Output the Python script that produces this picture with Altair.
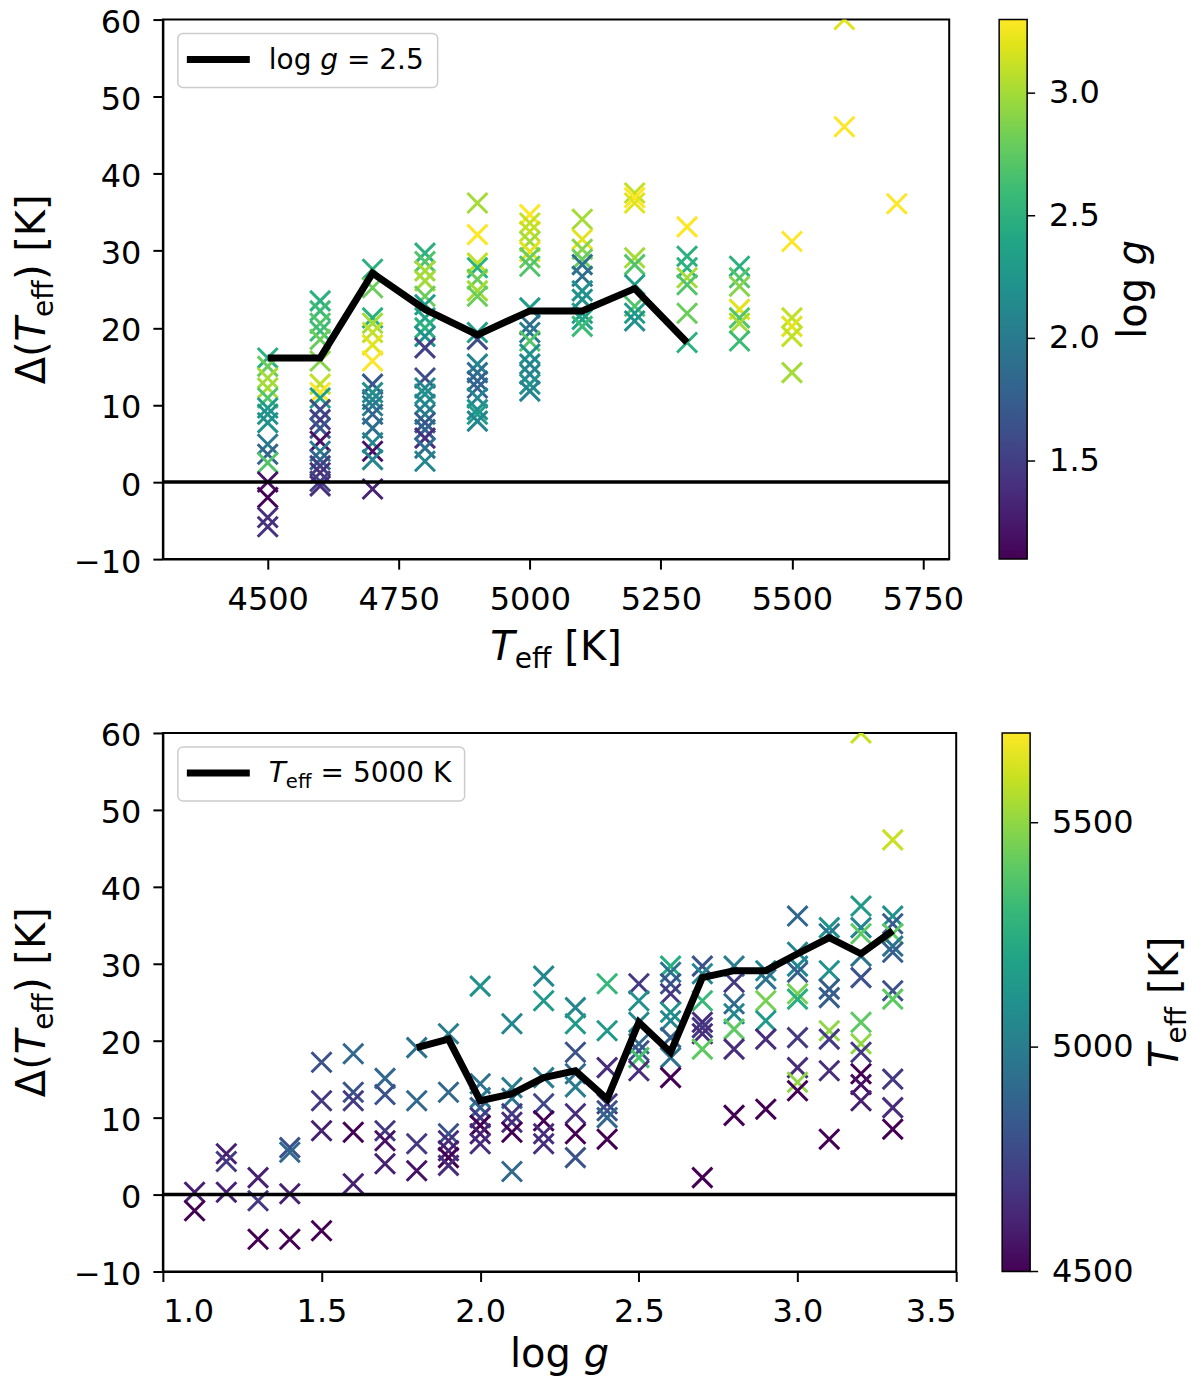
import altair as alt
import pandas as pd

FONT = "DejaVu Sans"

# ---------------- top panel: Delta(Teff) vs Teff, colour = log g ----------------
top_teff_cols = [4500, 4600, 4700, 4800, 4900, 5000, 5100, 5200, 5300, 5400, 5500, 5600, 5700]
top_delta = [
    [16.1, 15.0, 13.5, 12.2, 10.9, 9.6, 8.8, 7.7, 4.9, 3.6, 2.5, 0.0, -2.0, -4.6, -5.8],
    [23.5, 22.2, 20.6, 19.6, 18.5, 15.7, 12.7, 11.6, 10.9, 9.4, 8.1, 7.0, 5.3, 4.0, 2.9, 2.1, 1.2, 0.1, -0.5],
    [27.6, 25.2, 21.3, 20.6, 19.4, 17.8, 15.7, 12.7, 11.6, 10.7, 9.9, 8.8, 7.0, 5.1, 4.0, 2.9, -0.9],
    [29.7, 28.6, 27.4, 26.1, 24.1, 23.0, 21.3, 20.0, 18.9, 17.4, 13.5, 12.2, 11.4, 10.1, 8.8, 7.7, 6.8, 5.7, 4.4, 2.7],
    [36.2, 32.1, 28.4, 27.8, 26.3, 24.8, 24.1, 19.4, 18.5, 15.3, 14.2, 13.1, 12.2, 10.9, 9.4, 8.8, 7.9],
    [34.7, 33.6, 32.5, 31.2, 29.9, 29.1, 28.0, 22.6, 20.4, 19.4, 18.3, 16.6, 15.3, 14.0, 12.7, 11.8],
    [34.1, 31.5, 30.2, 28.9, 28.2, 26.7, 24.8, 23.7, 21.9, 21.1, 20.2],
    [37.5, 36.9, 36.2, 29.1, 28.2, 25.6, 22.8, 21.9, 20.9],
    [33.1, 29.3, 27.8, 26.5, 25.6, 21.9, 18.1],
    [28.0, 26.5, 25.4, 22.4, 21.3, 20.6, 18.3],
    [31.2, 21.3, 20.2, 18.9, 14.2],
    [60.0, 46.1],
    [36.1],
]
top_logg = [
    [2.5, 2.8, 3.0, 3.0, 2.7, 2.3, 2.2, 2.2, 2.0, 1.8, 2.7, 1.2, 1.1, 1.4, 1.4],
    [2.5, 2.6, 2.7, 2.6, 2.8, 2.9, 3.1, 3.3, 2.3, 1.6, 1.5, 1.7, 1.2, 2.0, 1.8, 1.5, 1.4, 1.5, 1.4],
    [2.5, 2.8, 2.5, 3.0, 3.1, 3.2, 3.3, 1.7, 2.2, 2.1, 2.0, 1.8, 1.9, 2.1, 1.2, 2.1, 1.3],
    [2.5, 2.7, 3.0, 3.0, 2.8, 2.3, 2.4, 2.5, 2.2, 1.5, 1.6, 2.1, 2.2, 2.1, 2.0, 1.7, 1.8, 1.4, 1.9, 2.1],
    [3.0, 3.3, 3.1, 2.5, 2.8, 3.0, 2.8, 2.3, 1.6, 2.1, 1.9, 1.8, 1.8, 2.1, 2.2, 2.3, 2.1],
    [3.3, 3.1, 3.1, 3.0, 3.2, 2.8, 2.7, 2.3, 1.9, 2.0, 2.7, 2.2, 2.1, 2.1, 2.2, 2.1],
    [3.0, 3.2, 2.9, 2.8, 1.9, 1.9, 2.2, 2.2, 2.3, 2.4, 2.6],
    [3.1, 3.3, 3.2, 3.0, 2.7, 2.3, 2.7, 2.3, 2.2],
    [3.3, 2.5, 2.5, 3.0, 2.7, 2.8, 2.5],
    [2.5, 2.7, 2.9, 3.2, 2.7, 3.0, 2.6],
    [3.3, 3.1, 3.2, 3.1, 3.0],
    [3.2, 3.3],
    [3.3],
]
top_line_teff = [4500, 4600, 4700, 4800, 4900, 5000, 5100, 5200, 5300]
top_line_delta = [16.1, 16.1, 27.1, 22.4, 19.1, 22.2, 22.2, 25.1, 18.1]

# ---------------- bottom panel: Delta(Teff) vs log g, colour = Teff ----------------
bot_logg_cols = [1.1, 1.2, 1.3, 1.4, 1.5, 1.6, 1.7, 1.8, 1.9, 2.0, 2.1, 2.2,
                 2.3, 2.4, 2.5, 2.6, 2.7, 2.8, 2.9, 3.0, 3.1, 3.2, 3.3]
bot_delta = [
    [0.3, -2.1],
    [5.3, 4.3, 0.3],
    [2.2, -0.8, -5.8],
    [6.1, 5.5, 0.1, -5.8],
    [17.2, 12.2, 8.3, -4.7],
    [18.3, 13.3, 12.2, 8.1, 1.4],
    [15.1, 13.0, 8.3, 7.0, 4.0],
    [19.1, 12.2, 6.6, 3.1],
    [20.9, 13.3, 7.9, 7.0, 5.7, 4.8, 3.8],
    [27.1, 14.4, 12.6, 11.3, 10.0, 9.0, 7.9, 6.6],
    [22.2, 13.9, 12.5, 10.5, 9.4, 8.1, 3.0],
    [28.4, 25.2, 15.2, 11.8, 9.6, 7.9, 6.6],
    [24.3, 22.2, 18.5, 15.7, 14.0, 10.5, 7.9, 4.8],
    [27.4, 21.3, 16.5, 11.8, 10.9, 10.0, 7.2],
    [27.4, 25.2, 22.4, 19.6, 18.7, 17.8, 16.1],
    [29.7, 28.9, 27.4, 26.1, 23.7, 22.6, 20.4, 17.8, 15.2],
    [29.7, 28.7, 25.2, 22.4, 21.7, 20.9, 18.9, 2.2],
    [29.7, 27.6, 24.8, 23.5, 21.5, 18.9, 10.3],
    [29.1, 28.0, 25.2, 22.6, 20.2, 11.1],
    [36.2, 31.5, 29.7, 28.9, 26.1, 25.4, 20.4, 16.5, 14.6, 13.5],
    [34.7, 33.9, 29.1, 26.7, 25.6, 21.3, 20.2, 16.1, 7.2],
    [60.0, 37.5, 34.7, 33.9, 31.0, 28.2, 22.4, 19.6, 18.5, 15.7, 14.3, 12.2],
    [46.1, 36.2, 35.2, 33.9, 32.3, 31.5, 26.5, 25.4, 15.0, 11.3, 8.5],
]
bot_teff = [
    [4600, 4500],
    [4600, 4700, 4600],
    [4600, 4700, 4500],
    [4800, 4900, 4600, 4500],
    [4800, 4700, 4600, 4500],
    [4900, 4800, 4700, 4500, 4600],
    [4900, 4800, 4700, 4550, 4600],
    [4950, 4900, 4700, 4550],
    [5000, 4900, 4800, 4650, 4600, 4500, 4650],
    [5100, 4950, 5000, 4850, 4700, 4500, 4600, 4650],
    [5050, 5000, 4950, 4700, 4650, 4500, 4900],
    [5050, 5150, 5000, 4750, 4500, 4650, 4650],
    [5050, 5150, 4800, 4900, 5000, 4650, 4500, 4800],
    [5300, 5150, 4650, 4700, 4800, 4900, 4500],
    [4700, 5100, 5050, 4900, 4800, 5350, 4650],
    [5250, 4950, 4800, 4700, 5100, 5050, 4850, 4950, 4500],
    [4800, 5050, 5300, 4650, 4700, 4650, 5400, 4500],
    [5000, 4700, 4900, 5050, 5400, 4650, 4500],
    [5050, 4950, 5450, 5150, 4650, 4500],
    [4900, 5050, 5050, 4850, 5450, 5250, 4700, 4650, 5500, 4500],
    [5100, 4950, 5100, 4850, 4850, 5500, 4700, 4650, 4500],
    [5600, 5150, 5050, 5400, 4950, 4800, 5400, 5500, 4700, 4500, 4550, 4600],
    [5600, 5100, 4850, 5400, 4950, 4850, 4800, 5400, 4700, 4650, 4500],
]
bot_line_logg = [1.8, 1.9, 2.0, 2.1, 2.2, 2.3, 2.4, 2.5, 2.6, 2.7, 2.8, 2.9, 3.0, 3.1, 3.2, 3.3]
bot_line_delta = [19.1, 20.2, 12.2, 13.1, 15.2, 16.1, 12.4, 22.4, 18.5, 28.2, 29.1, 29.1, 31.3, 33.4, 31.3, 34.3]

y_ticks = [-10, 0, 10, 20, 30, 40, 50, 60]
top_x_ticks = [4500, 4750, 5000, 5250, 5500, 5750]
bot_x_ticks = [1.0, 1.5, 2.0, 2.5, 3.0, 3.5]
top_cbar_ticks = [1.5, 2.0, 2.5, 3.0]
bot_cbar_ticks = [4500, 5000, 5500]

# ---------------- tables ----------------
top_df = pd.DataFrame(
    [(t, d, g) for t, ds, gs in zip(top_teff_cols, top_delta, top_logg) for d, g in zip(ds, gs)],
    columns=["teff", "delta", "logg"])
bot_df = pd.DataFrame(
    [(g, d, t) for g, ds, ts in zip(bot_logg_cols, bot_delta, bot_teff) for d, t in zip(ds, ts)],
    columns=["logg", "delta", "teff"])
top_line_df = pd.DataFrame({"teff": top_line_teff, "delta": top_line_delta})
bot_line_df = pd.DataFrame({"logg": bot_line_logg, "delta": bot_line_delta})
zero_df = pd.DataFrame({"y": [0]})
one = pd.DataFrame({"a": [0]})

# ---------------- rich text helper (DejaVu Sans advance widths, em) ----------------
WID = {" ": 0.318, "(": 0.390, ")": 0.390, "[": 0.390, "]": 0.390, "\u0394": 0.684,
       "T": 0.611, "e": 0.615, "f": 0.352, "K": 0.656, "l": 0.278, "o": 0.612,
       "g": 0.635, "=": 0.838, ".": 0.318}
for _d in "0123456789":
    WID[_d] = 0.636


def tw(s, size):
    return sum(WID.get(c, 0.6) for c in s) * size


def rich_text(pieces, x0, y0, vertical=False, centered=True):
    total = sum(tw(t, s) for t, s, _, _ in pieces)
    pos = -total / 2 if centered else 0.0
    out = []
    for t, s, ital, dy in pieces:
        lead = len(t) - len(t.lstrip(" "))
        p = pos + tw(" " * lead, s)
        if vertical:
            x, y, ang = x0 + dy, y0 - p, 270
        else:
            x, y, ang = x0 + p, y0 + dy, 0
        out.append(
            alt.Chart(one).mark_text(
                text=t.strip(), font=FONT, fontSize=s,
                fontStyle="italic" if ital else "normal",
                align="left", baseline="alphabetic", angle=ang, color="black",
            ).encode(x=alt.value(x), y=alt.value(y))
        )
        pos += tw(t, s)
    return out


XSHAPE = "M-1,-1L1,1M-1,1L1,-1"
TF = 40      # title font size
SF = 28      # subscript font size
LF = 28      # legend font size
CBW = 28     # colour-bar thickness


def panel(df, xfield, cfield, xdom, xticks, xfmt, cdom, cticks, cfmt,
          line_df, W, H, cbar_x, label_pieces, box_w, xtitle, xtitle_dy, ctitle, ctitle_x):
    yscale = alt.Scale(domain=[-10, 60], nice=False, zero=False)
    xscale = alt.Scale(domain=xdom, nice=False, zero=False)
    cscale_pos = alt.Scale(domain=cdom, nice=False, zero=False)
    xaxis = alt.Axis(values=xticks, format=xfmt, title=None, labelPadding=15)
    yaxis = alt.Axis(values=y_ticks, format="d", title=None, labelPadding=12, labelOffset=3)
    pts = alt.Chart(df).mark_point(
        shape=XSHAPE, filled=False, size=400, strokeWidth=3, opacity=1, clip=True
    ).encode(
        x=alt.X(f"{xfield}:Q", scale=xscale, axis=xaxis),
        y=alt.Y("delta:Q", scale=yscale, axis=yaxis),
        color=alt.Color(
            f"{cfield}:Q",
            scale=alt.Scale(scheme="viridis", domain=cdom),
            legend=alt.Legend(
                orient="none", legendX=cbar_x, legendY=0, direction="vertical",
                gradientLength=H, gradientThickness=CBW, title=None,
                values=cticks, labelExpr="''", labelFontSize=10,
                gradientStrokeColor="black", gradientStrokeWidth=1.5, padding=0,
            ),
        ),
    )
    zero = alt.Chart(zero_df).mark_rule(color="black", strokeWidth=3.5).encode(
        y=alt.Y("y:Q", scale=yscale, axis=None))
    line = alt.Chart(line_df).mark_line(color="black", strokeWidth=7).encode(
        x=alt.X(f"{xfield}:Q", scale=xscale), y=alt.Y("delta:Q", scale=yscale, axis=None))
    cb_df = pd.DataFrame({"v": cticks})
    cb_ticks = alt.Chart(cb_df).mark_rule(color="black", strokeWidth=1.5).encode(
        x=alt.value(cbar_x + CBW), x2=alt.value(cbar_x + CBW + 8),
        y=alt.Y("v:Q", scale=cscale_pos, axis=None))
    cb_labels = alt.Chart(cb_df).mark_text(
        align="left", baseline="middle", font=FONT, fontSize=32, color="black"
    ).encode(
        x=alt.value(cbar_x + CBW + 22),
        y=alt.Y("v:Q", scale=cscale_pos, axis=None),
        text=alt.Text("v:Q", format=cfmt))
    box = alt.Chart(one).mark_rect(
        fill="white", fillOpacity=0.85, stroke="#cccccc", strokeWidth=1.5, cornerRadius=5
    ).encode(x=alt.value(15), x2=alt.value(15 + box_w), y=alt.value(14), y2=alt.value(68))
    sample = alt.Chart(one).mark_rule(color="black", strokeWidth=7).encode(
        x=alt.value(24), x2=alt.value(87), y=alt.value(40), y2=alt.value(40))
    texts = []
    texts += rich_text(label_pieces, 106, 49, centered=False)
    texts += rich_text(xtitle, W / 2, H + xtitle_dy)
    texts += rich_text([("\u0394(", TF, False, 0), ("T", TF, True, 0), ("eff", SF, False, 8),
                        (")", TF, False, 0), (" [K]", TF, False, 0)], -118, H / 2, vertical=True)
    texts += rich_text(ctitle, ctitle_x, H / 2, vertical=True)
    return alt.layer(pts, zero, line, cb_ticks, cb_labels, box, sample, *texts).resolve_scale(
        y="independent").properties(width=W, height=H)


top = panel(
    top_df, "teff", "logg", [4300, 5800], top_x_ticks, "d",
    [1.1, 3.3], top_cbar_ticks, ".1f", top_line_df, 787, 540, 837,
    [("log ", LF, False, 0), ("g", LF, True, 0), (" = 2.5", LF, False, 0)], 260,
    [("T", TF, True, 0), ("eff", SF, False, 8), (" [K]", TF, False, 0)], 101,
    [("log ", TF, False, 0), ("g", TF, True, 0)], 984,
)
bottom = panel(
    bot_df, "logg", "teff", [1.0, 3.5], bot_x_ticks, ".1f",
    [4500, 5700], bot_cbar_ticks, "d", bot_line_df, 794, 539, 840,
    [("T", LF, True, 0), ("eff", 19.6, False, 6), (" = 5000 K", LF, False, 0)], 287,
    [("log ", TF, False, 0), ("g", TF, True, 0)], 96,
    [("T", TF, True, 0), ("eff", SF, False, 8), (" [K]", TF, False, 0)], 1016,
)

chart = alt.vconcat(top, bottom, spacing=174, bounds="flush").resolve_scale(
    color="independent", x="independent", y="independent"
).resolve_legend(color="independent").properties(
    padding={"left": 3, "top": -3, "right": -1, "bottom": 0}
).configure_view(stroke="black", strokeWidth=2).configure_axis(
    labelFont=FONT, labelFontSize=32, labelColor="black", tickColor="black",
    domainColor="black", tickSize=10, tickWidth=2, domainWidth=2, grid=False,
)

chart.save("out.html", embed_options={"renderer": "svg", "actions": False})
